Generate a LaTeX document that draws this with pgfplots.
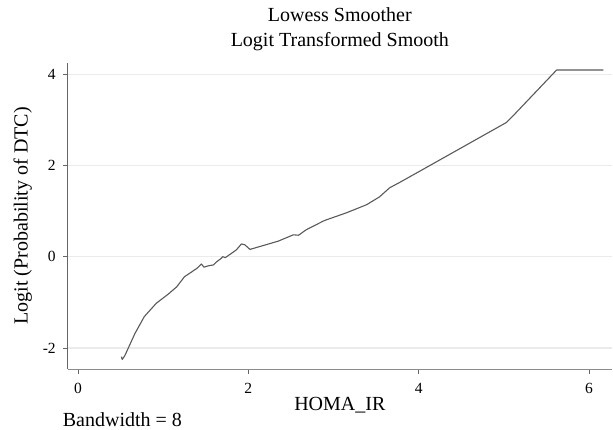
\documentclass[border=0pt]{standalone}
\usepackage{fontspec}
\setmainfont{Liberation Serif}
\usepackage{pgfplots}
\pgfplotsset{compat=1.18}
\begin{document}
\begin{tikzpicture}[x=1pt,y=1pt]
\useasboundingbox (-67.7,-60) rectangle (545.3,369);
\begin{axis}[
  at={(0pt,0pt)}, anchor=south west,
  scale only axis, width=544.3pt, height=306.3pt,
  xmin=-0.12, xmax=6.27, ymin=-2.46, ymax=4.25,
  axis lines=left,
  x axis line style={-, draw=black!45, line width=0.9pt},
  y axis line style={-, draw=black!60, line width=0.9pt},
  xtick={0,2,4,6}, ytick={-2,0,2,4},
  xticklabels={0,2,4,6}, yticklabels={-2,0,2,4},
  tick align=outside, major tick length=4.5pt,
  tick style={draw=black!60, line width=0.7pt},
  ymajorgrids, grid style={draw=black!8, line width=1.2pt},
  ticklabel style={font=\fontsize{15.5}{16}\selectfont},
  xticklabel style={yshift=-6pt},
  yticklabel style={xshift=-4pt},
  title={Lowess Smoother\\Logit Transformed Smooth},
  title style={align=center, font=\fontsize{20}{25}\selectfont,
    at={(axis description cs:0.5,1.0317)}, anchor=base},
  xlabel={HOMA\_IR},
  every axis x label/.style={at={(axis description cs:0.5,-0.137)}, anchor=base,
    font=\fontsize{20}{24}\selectfont},
  ylabel={Logit (Probability of DTC)},
  every axis y label/.style={at={(axis description cs:-0.0735,0.5)}, anchor=base,
    rotate=90, font=\fontsize{20}{24}\selectfont},
]
\addplot[draw=black!65, line width=1.1pt, mark=none, line join=round] coordinates {
(0.51,-2.19) (0.52,-2.25) (0.55,-2.17) (0.67,-1.68) (0.78,-1.31) (0.92,-1.02)
(1.06,-0.82) (1.16,-0.66) (1.25,-0.44) (1.33,-0.34) (1.40,-0.25) (1.45,-0.16)
(1.48,-0.23) (1.53,-0.20) (1.59,-0.18) (1.63,-0.11) (1.68,-0.04) (1.70,0.00)
(1.73,-0.02) (1.80,0.07) (1.86,0.15) (1.92,0.28) (1.96,0.26) (2.02,0.16)
(2.35,0.34) (2.53,0.48) (2.59,0.47) (2.68,0.59) (2.88,0.78) (2.92,0.81)
(3.15,0.96) (3.39,1.14) (3.54,1.31) (3.66,1.51) (3.78,1.63) (4.01,1.87)
(5.03,2.94) (5.09,3.05) (5.62,4.09) (6.17,4.09)
};
\end{axis}
\node[anchor=base west, inner sep=0pt, font=\fontsize{20}{24}\selectfont] at (-5,-57) {Bandwidth = 8};
\end{tikzpicture}
\end{document}
